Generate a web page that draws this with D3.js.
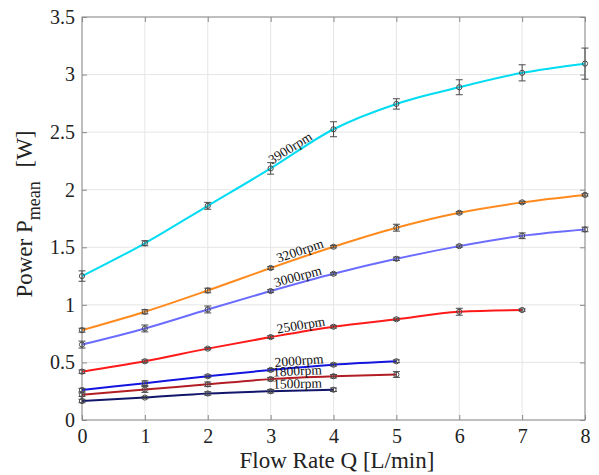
<!DOCTYPE html>
<html><head><meta charset="utf-8">
<script src="https://cdn.jsdelivr.net/npm/d3@7"></script>
<style>body{margin:0;background:#fff}svg{display:block}</style>
</head><body>
<svg id="c" width="599" height="475"></svg>
<script>
const xTicks = [0,1,2,3,4,5,6,7,8];
const yTicks = [0,0.5,1,1.5,2,2.5,3,3.5];
const yTickLabels = ["0","0.5","1","1.5","2","2.5","3","3.5"];
const flow = [0,1,2,3,4,5,6,7,8];

const names = ["3900rpm","3200rpm","3000rpm","2500rpm","2000rpm","1800rpm","1500rpm"];
const colors = ["#00DCF2","#FF8A1E","#6C6CFF","#FF1A1A","#1414E0","#B21E24","#12166A"];
const p3900 = [1.25,1.535,1.86,2.185,2.525,2.745,2.89,3.015,3.095];
const p3200 = [0.78,0.94,1.125,1.32,1.505,1.67,1.80,1.89,1.955];
const p3000 = [0.655,0.795,0.96,1.12,1.27,1.40,1.51,1.60,1.655];
const p2500 = [0.42,0.51,0.62,0.72,0.81,0.875,0.94,0.955];
const p2000 = [0.26,0.32,0.38,0.435,0.48,0.51];
const p1800 = [0.22,0.265,0.31,0.355,0.38,0.395];
const p1500 = [0.165,0.195,0.23,0.25,0.263];
const e3900 = [0.045,0.022,0.03,0.05,0.065,0.045,0.065,0.07,0.135];
const e3200 = [0.017,0.018,0.02,0.012,0.01,0.03,0.01,0.01,0.01];
const e3000 = [0.03,0.03,0.03,0.012,0.01,0.015,0.01,0.025,0.02];
const e2500 = [0.015,0.012,0.01,0.012,0.012,0.01,0.03,0.01];
const e2000 = [0.015,0.02,0.012,0.012,0.012,0.012];
const e1800 = [0.015,0.025,0.02,0.015,0.015,0.025];
const e1500 = [0.015,0.01,0.015,0.015,0.015];
const labelX = [3.37,3.5,3.46,3.5,3.46,3.43,3.43];

const series = [p3900,p3200,p3000,p2500,p2000,p1800,p1500];
const errs = [e3900,e3200,e3000,e2500,e2000,e1800,e1500];

const svg = d3.select("#c");
const L=82,R=585,T=17,B=420;
const x = d3.scaleLinear().domain([0,8]).range([L,R]);
const y = d3.scaleLinear().domain([0,3.5]).range([B,T]);
const font = "'Liberation Serif','Times New Roman',serif";

// grid
const g = svg.append("g");
g.selectAll(".gx").data(xTicks).join("line")
  .attr("x1",d=>x(d)).attr("x2",d=>x(d)).attr("y1",T).attr("y2",B)
  .attr("stroke","#e6e6e6").attr("stroke-width",1);
g.selectAll(".gy").data(yTicks).join("line")
  .attr("y1",d=>y(d)).attr("y2",d=>y(d)).attr("x1",L).attr("x2",R)
  .attr("stroke","#e6e6e6").attr("stroke-width",1);

// axes with inward ticks
const axCol = "#8a8a8a";
function styleAxis(sel){
  sel.select(".domain").remove();
  sel.selectAll(".tick line").attr("stroke",axCol);
  sel.selectAll(".tick text").attr("fill","#222").style("font-family",font).style("font-size","20px");
}
svg.append("g").attr("transform",`translate(0,${B})`)
  .call(d3.axisBottom(x).tickValues(xTicks).tickFormat(d3.format("d")).tickSizeInner(-5).tickPadding(9))
  .call(styleAxis);
svg.append("g").attr("transform",`translate(${L},0)`)
  .call(d3.axisLeft(y).tickValues(yTicks).tickFormat((d,i)=>yTickLabels[i]).tickSizeInner(-5).tickPadding(7))
  .call(styleAxis);
svg.append("g").attr("transform",`translate(0,${T})`)
  .call(d3.axisTop(x).tickValues(xTicks).tickFormat("").tickSizeInner(-5))
  .call(styleAxis);
svg.append("g").attr("transform",`translate(${R},0)`)
  .call(d3.axisRight(y).tickValues(yTicks).tickFormat("").tickSizeInner(-5))
  .call(styleAxis);
svg.append("rect").attr("x",L).attr("y",T).attr("width",R-L).attr("height",B-T)
  .attr("fill","none").attr("stroke",axCol).attr("stroke-width",1);

// lines
const line = d3.line().x((d,i)=>x(flow[i])).y(d=>y(d)).curve(d3.curveMonotoneX);
series.forEach((s,k)=>{
  svg.append("path").datum(s).attr("d",line).attr("fill","none")
    .attr("stroke",colors[k]).attr("stroke-width",2);
});

// error bars and markers
const ebCol = "#4a4a4a";
series.forEach((s,k)=>{
  const gg = svg.append("g");
  s.forEach((v,i)=>{
    const e = errs[k][i];
    const cx = x(flow[i]);
    gg.append("line").attr("x1",cx).attr("x2",cx).attr("y1",y(v-e)).attr("y2",y(v+e)).attr("stroke",ebCol).attr("stroke-width",1);
    [v-e,v+e].forEach(w=>gg.append("line").attr("x1",cx-3.5).attr("x2",cx+3.5).attr("y1",y(w)).attr("y2",y(w)).attr("stroke",ebCol).attr("stroke-width",1));
    gg.append("circle").attr("cx",cx).attr("cy",y(v)).attr("r",2.6)
      .attr("fill","none").attr("stroke",ebCol).attr("stroke-width",1);
  });
});

// inline labels
series.forEach((s,k)=>{
  const lx = labelX[k];
  const i0 = Math.floor(lx);
  const t = lx - i0;
  const v = s[i0]*(1-t)+s[i0+1]*t;
  const px = x(lx), py = y(v);
  const ang = Math.atan2(y(s[i0+1])-y(s[i0]), x(i0+1)-x(i0))*180/Math.PI;
  svg.append("text").attr("transform",`translate(${px},${py}) rotate(${ang})`)
    .attr("dy",-2.5).attr("text-anchor","middle")
    .style("font-family",font).style("font-size","13.5px").attr("fill","#111")
    .text(names[k]);
});

// axis titles
svg.append("text").attr("x",337).attr("y",468).attr("text-anchor","middle")
  .style("font-family",font).style("font-size","23px").attr("fill","#222")
  .text("Flow Rate Q [L/min]");
const yt = svg.append("text").attr("transform",`translate(32,214) rotate(-90)`)
  .attr("text-anchor","middle").style("font-family",font).style("font-size","23px").attr("fill","#222");
yt.append("tspan").text("Power P");
yt.append("tspan").attr("dy",8).style("font-size","18px").text("mean");
yt.append("tspan").attr("dy",-8).attr("dx",8).text(" [W]");
</script>
</body></html>
